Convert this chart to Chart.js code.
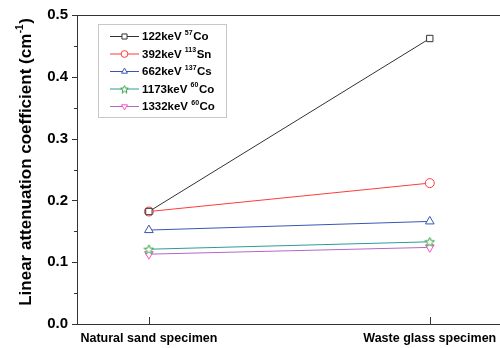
<!DOCTYPE html>
<html><head><meta charset="utf-8">
<script src="https://cdn.jsdelivr.net/npm/chart.js@4/dist/chart.umd.min.js"></script>
<style>html,body{margin:0;padding:0;background:#fff}canvas{display:block}</style>
</head><body>
<canvas id="c" width="500" height="348"></canvas>
<script>
const categories = ['Natural sand specimen', 'Waste glass specimen'];
const energies = ['122keV', '392keV', '662keV', '1173keV', '1332keV'];
const massNumbers = ['57', '113', '137', '60', '60'];
const elements = ['Co', 'Sn', 'Cs', 'Co', 'Co'];
const co57 = [0.182, 0.462];
const sn113 = [0.182, 0.228];
const cs137 = [0.152, 0.166];
const co60a = [0.121, 0.133];
const co60b = [0.113, 0.124];
const yMajorTicks = [0.0, 0.1, 0.2, 0.3, 0.4, 0.5];
const yTitle = 'Linear attenuation coefficient (cm';
const yTitleSup = '-1';

function starCanvas(color, s, R, r) {
  const c = document.createElement('canvas');
  c.width = s; c.height = s;
  const g = c.getContext('2d');
  g.strokeStyle = color; g.fillStyle = '#fff'; g.lineWidth = 1;
  g.beginPath();
  const cx = s / 2, cy = s / 2 + 0.5;
  for (let i = 0; i < 10; i++) {
    const a = -Math.PI / 2 + i * Math.PI / 5;
    const rr = i % 2 === 0 ? R : r;
    const x = cx + rr * Math.cos(a), y = cy + rr * Math.sin(a);
    if (i === 0) g.moveTo(x, y); else g.lineTo(x, y);
  }
  g.closePath(); g.fill(); g.stroke();
  return c;
}

const seriesValues = [co57, sn113, cs137, co60a, co60b];
const lineColors = ['#333333', '#ff3b3b', '#3a55b5', '#2a9d96', '#b566c8'];
const markColors = ['#333333', '#ff3b3b', '#3a55b5', '#33a040', '#ff4fc4'];
const starImg = starCanvas('#33a040', 11, 5, 2.2);
const starSmall = starCanvas('#33a040', 9, 4, 1.8);
const pointStyles = ['rect', 'circle', 'triangle', starImg, 'triangle'];
const rotations = [0, 0, 0, 0, 180];
const radii = [4.5, 4.5, 5, 5, 5];

const datasets = seriesValues.map((vals, i) => ({
  label: energies[i] + ' ' + massNumbers[i] + elements[i],
  data: vals.map((v, j) => ({ x: j, y: v })),
  borderColor: lineColors[i],
  borderWidth: 1,
  pointStyle: pointStyles[i],
  pointRotation: rotations[i],
  pointRadius: radii[i],
  pointBorderColor: markColors[i],
  pointBackgroundColor: '#ffffff',
  pointBorderWidth: 1,
  tension: 0,
  clip: false
}));

const FONT = '"Liberation Sans", Arial, sans-serif';

const decor = {
  id: 'decor',
  afterDraw(chart) {
    const ctx = chart.ctx, a = chart.chartArea;
    const ys = chart.scales.y, xs = chart.scales.x;
    ctx.save();
    ctx.strokeStyle = '#333'; ctx.lineWidth = 1;
    ctx.beginPath(); ctx.moveTo(a.left, a.top + 0.5); ctx.lineTo(a.right, a.top + 0.5); ctx.stroke();
    for (let k = 0; k <= 10; k++) {
      const v = k * 0.05;
      const y = Math.round(ys.getPixelForValue(v)) + 0.5;
      const major = k % 2 === 0;
      ctx.beginPath(); ctx.moveTo(a.left, y); ctx.lineTo(a.left - (major ? 5 : 3), y); ctx.stroke();
    }
    [0, 1].forEach(v => {
      const x = Math.round(xs.getPixelForValue(v)) + 0.5;
      ctx.beginPath(); ctx.moveTo(x, a.bottom); ctx.lineTo(x, a.bottom - 7); ctx.stroke();
    });
    // y title
    ctx.translate(26, 162);
    ctx.rotate(-Math.PI / 2);
    ctx.fillStyle = '#000';
    ctx.textBaseline = 'middle';
    ctx.textAlign = 'left';
    ctx.font = 'bold 17px ' + FONT;
    const w1 = ctx.measureText(yTitle).width;
    const w3 = ctx.measureText(')').width;
    ctx.font = 'bold 10px ' + FONT;
    const w2 = ctx.measureText(yTitleSup).width;
    const x0 = -(w1 + w2 + w3 + 1) / 2;
    ctx.font = 'bold 17px ' + FONT;
    ctx.fillText(yTitle, x0, 0);
    ctx.font = 'bold 10px ' + FONT;
    ctx.fillText(yTitleSup, x0 + w1 + 0.5, -6);
    ctx.font = 'bold 17px ' + FONT;
    ctx.fillText(')', x0 + w1 + w2 + 1, 0);
    ctx.restore();

    // legend
    ctx.save();
    ctx.strokeStyle = '#c8c8c8'; ctx.lineWidth = 1;
    ctx.strokeRect(98.5, 24.5, 128, 93);
    const rowY = [36, 53.5, 71, 88.5, 106];
    datasets.forEach((ds, i) => {
      const y = rowY[i];
      ctx.strokeStyle = lineColors[i]; ctx.lineWidth = 1;
      ctx.beginPath(); ctx.moveTo(110, y + 0.5); ctx.lineTo(139, y + 0.5); ctx.stroke();
      ctx.strokeStyle = markColors[i];
      ctx.fillStyle = '#fff';
      if (i !== 3) {
        Chart.helpers.drawPoint(ctx, {
          pointStyle: pointStyles[i], rotation: rotations[i], radius: i === 0 ? 3.6 : 3.4, borderWidth: 1
        }, 124.5, y + 0.5);
      } else {
        ctx.drawImage(starSmall, 120, y - 4, 9, 9);
      }
      ctx.fillStyle = '#000';
      ctx.textBaseline = 'middle';
      ctx.textAlign = 'left';
      ctx.font = 'bold 11.5px ' + FONT;
      let tx = 142;
      ctx.fillText(energies[i] + ' ', tx, y + 1);
      tx += ctx.measureText(energies[i] + ' ').width;
      ctx.font = 'bold 7px ' + FONT;
      ctx.fillText(massNumbers[i], tx, y - 3);
      tx += ctx.measureText(massNumbers[i]).width + 0.5;
      ctx.font = 'bold 11.5px ' + FONT;
      ctx.fillText(elements[i], tx, y + 1);
    });
    ctx.restore();
  }
};

new Chart(document.getElementById('c'), {
  type: 'line',
  data: { datasets },
  options: {
    responsive: false,
    animation: false,
    layout: { autoPadding: false, padding: { top: 15, right: 0, left: 0, bottom: 0 } },
    plugins: { legend: { display: false }, tooltip: { enabled: false } },
    scales: {
      x: {
        type: 'linear',
        min: -0.256, max: 1.25,
        afterBuildTicks: s => { s.ticks = [{ value: 0 }, { value: 1 }]; },
        afterFit: s => { s.height = 24; s.paddingLeft = 0; s.paddingRight = 0; },
        ticks: {
          callback: v => categories[v],
          font: { family: FONT, size: 12.5, weight: 'bold' },
          color: '#000', padding: 7, maxRotation: 0, autoSkip: false
        },
        grid: { display: false, drawTicks: false },
        border: { display: true, color: '#333', width: 1 }
      },
      y: {
        min: 0, max: 0.5,
        afterBuildTicks: s => { s.ticks = yMajorTicks.map(v => ({ value: v })); },
        afterFit: s => { s.width = 77; s.paddingTop = 0; s.paddingBottom = 0; },
        ticks: {
          callback: v => v.toFixed(1),
          font: { family: FONT, size: 15, weight: 'bold' },
          color: '#000', padding: 9
        },
        grid: { display: false, drawTicks: false },
        border: { display: true, color: '#333', width: 1 }
      }
    }
  },
  plugins: [decor]
});
</script>
</body></html>
